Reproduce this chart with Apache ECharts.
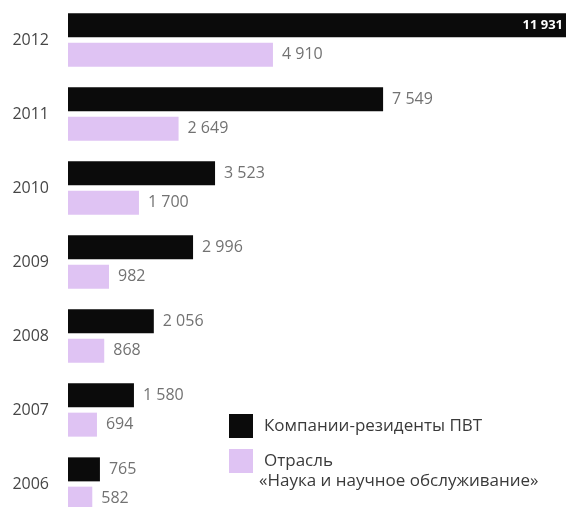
<!DOCTYPE html>
<html>
<head>
<meta charset="utf-8">
<script src="https://cdn.jsdelivr.net/npm/echarts@6/dist/echarts.min.js"></script>
<style>
body { margin: 0; background: #fff; }
#chart { width: 570px; height: 507px; }
</style>
</head>
<body>
<div id="chart"></div>
<script>
const years = ['2012', '2011', '2010', '2009', '2008', '2007', '2006']
const residents = [11931, 7549, 3523, 2996, 2056, 1580, 765]
const science = [4910, 2649, 1700, 982, 868, 694, 582]
const names = ['Компании-резиденты ПВТ', 'Отрасль']
const scienceSub = '«Наука и научное обслуживание»'

const fmt = v => String(v).replace(/\B(?=(\d{3})+(?!\d))/g, ' ')
const font = '"Open Sans", "Noto Sans", sans-serif'

const valueLabel = {
  show: true,
  position: 'right',
  distance: 9,
  color: '#727272',
  fontFamily: font,
  fontSize: 16,
  formatter: p => fmt(p.value)
}

// one legend per item so they sit where the original key is
const legendBase = {
  orient: 'vertical',
  icon: 'rect',
  itemWidth: 24,
  itemHeight: 24,
  padding: 0,
  itemStyle: { borderWidth: 0 },
  textStyle: { color: '#3a3a3a', fontFamily: font, fontSize: 17, padding: [0, 0, 0, 6] }
}

const chart = echarts.init(document.getElementById('chart'))
chart.setOption({
  animation: false,
  grid: { left: 68, right: 4, top: 3, height: 518, outerBoundsMode: 'none' },
  xAxis: { type: 'value', min: 0, max: 11931, show: false },
  yAxis: {
    type: 'category',
    data: years,
    inverse: true,
    axisLine: { show: false },
    axisTick: { show: false },
    axisLabel: { color: '#464646', fontFamily: font, fontSize: 16, margin: 19 }
  },
  legend: [
    Object.assign({}, legendBase, { left: 229, top: 414, data: [names[0]] }),
    Object.assign({}, legendBase, {
      left: 229, top: 449, data: [names[1]],
      textStyle: Object.assign({}, legendBase.textStyle, { padding: [10, 0, 0, 6] })
    })
  ],
  graphic: [{
    type: 'text',
    left: 259,
    top: 473,
    style: { text: scienceSub, fill: '#3a3a3a', font: '17px ' + font }
  }],
  series: [
    {
      name: names[0],
      type: 'bar',
      barWidth: 24,
      barGap: '22%',
      itemStyle: { color: '#0b0b0b' },
      label: valueLabel,
      data: residents.map((v, i) => i === 0
        ? { value: v, label: { position: 'insideRight', color: '#fff', fontSize: 13, fontWeight: 'bold', distance: 3 } }
        : v)
    },
    {
      name: names[1],
      type: 'bar',
      barWidth: 24,
      itemStyle: { color: '#dfc3f3' },
      label: valueLabel,
      data: science
    }
  ]
})
</script>
</body>
</html>
